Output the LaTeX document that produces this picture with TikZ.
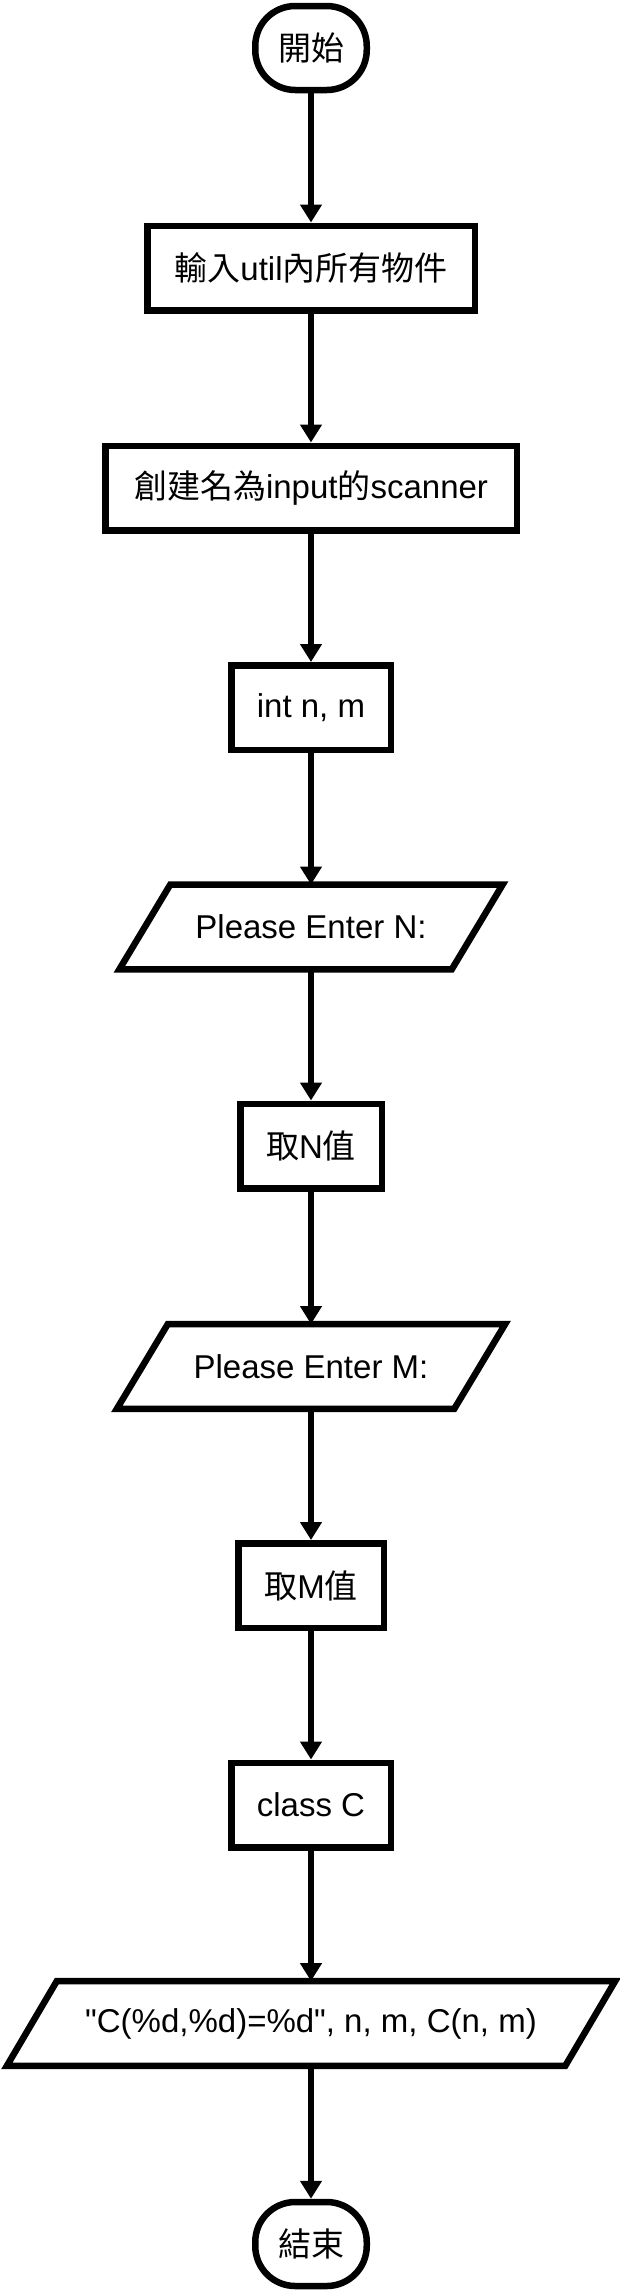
\documentclass[tikz,border=0pt]{standalone}
\usepackage{fontspec}
\setmainfont{Liberation Sans}
\newfontfamily\rawlatin{Liberation Sans}
\newfontfamily\cjk{Noto Sans CJK TC}
\usetikzlibrary{arrows.meta}
\begin{document}
\begin{tikzpicture}[x=1pt,y=-1pt,
  every node/.style={font=\fontsize{33}{40}\selectfont, inner sep=0pt},
  proc/.style={draw, line width=6.5pt, rectangle, minimum height=84.5pt, line join=miter},
  term/.style={draw, line width=6.5pt, rectangle, rounded corners=40pt, minimum width=111.5pt, minimum height=84pt},
  iobox/.style={rectangle, minimum height=84.5pt},
  io/.style={line width=6.5pt, line join=miter},
  flow/.style={line width=6.5pt, -{Triangle[length=18pt,width=21pt]}}
]
\useasboundingbox (0,0) rectangle (620,2292);
\node[term] (start) at (311,48) {\cjk 開始};
\node[proc, minimum width=327.5pt] (b1) at (311,268) {{\cjk 輸入}util{\cjk 內所有物件}};
\node[proc, minimum width=411.5pt] (b2) at (311,488) {{\cjk 創建名為}input{\cjk 的}scanner};
\node[proc, minimum width=159.5pt] (b3) at (311,707.5) {int n, m};
\node[iobox, minimum width=383pt] (p1) at (311,927) {Please Enter N:};
\draw[io] ([xshift=51pt]p1.north west) -- (p1.north east) -- ([xshift=-51pt]p1.south east) -- (p1.south west) -- cycle;
\node[proc, minimum width=141.5pt] (b4) at (311,1146) {{\cjk 取}N{\cjk 值}};
\node[iobox, minimum width=388pt] (p2) at (311,1366.5) {Please Enter M:};
\draw[io] ([xshift=51pt]p2.north west) -- (p2.north east) -- ([xshift=-51pt]p2.south east) -- (p2.south west) -- cycle;
\node[proc, minimum width=145.5pt] (b5) at (311,1585.5) {{\cjk 取}M{\cjk 值}};
\node[proc, minimum width=159.5pt] (b6) at (311,1805) {class C};
\node[iobox, minimum width=608pt] (p3) at (311,2023.5) {\rawlatin "C(\%d,\%d)=\%d", n, m, C(n, m)};
\draw[io] ([xshift=50pt]p3.north west) -- (p3.north east) -- ([xshift=-50pt]p3.south east) -- (p3.south west) -- cycle;
\node[term] (end) at (311,2244) {\cjk 結束};
\draw[flow] (start.south) -- (b1.north);
\draw[flow] (b1.south) -- (b2.north);
\draw[flow] (b2.south) -- (b3.north);
\draw[flow] (b3.south) -- (p1.north);
\draw[flow] (p1.south) -- (b4.north);
\draw[flow] (b4.south) -- (p2.north);
\draw[flow] (p2.south) -- (b5.north);
\draw[flow] (b5.south) -- (b6.north);
\draw[flow] (b6.south) -- (p3.north);
\draw[flow] (p3.south) -- (end.north);
\end{tikzpicture}
\end{document}
